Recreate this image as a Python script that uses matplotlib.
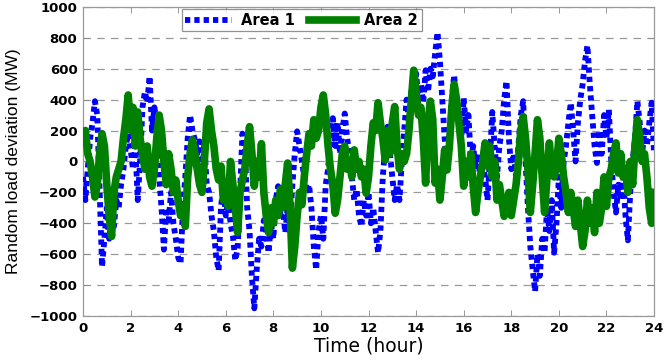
import numpy as np
import matplotlib
matplotlib.use("Agg")
import matplotlib.pyplot as plt

# Random load deviation (MW), sampled every 0.1 h from 0 to 24 h
area1 = [
    -100, -250, -50, 150, 250, 390, 300, -200, -680, -500,
    -300, -500, -350, -420, -250, -300, -150, -50, 100, 180,
    80, -50, 100, -250, 0, 350, 450, 380, 550, 200,
    350, 250, -100, -300, -570, -300, -380, -200, -400, -500,
    -620, -660, -300, -100, 150, 300, 200, 140, 50, 130,
    -100, 100, -150, -200, -350, -450, -620, -705, -300, -150,
    -350, -250, -400, -480, -640, -560, -200, 180, 100, -300,
    -450, -750, -950, -700, -500, -550, -380, -450, -590, -400,
    -500, -250, -160, -350, -300, -460, -300, -400, -150, 50,
    195, 100, 0, -100, -200, -150, -300, -550, -700, -450,
    -350, -500, -150, -50, 150, 280, 100, 250, 50, 200,
    310, 150, 50, -100, -250, -180, -350, -420, -250, -350,
    -200, -400, -300, -450, -590, -450, -100, 100, 225, 50,
    -100, -250, -150, -250, 0, 200, 400, 250, 450, 350,
    570, 400, 500, 380, 590, 450, 600, 550, 700, 835,
    650, 400, 150, -55, 150, 400, 560, 350, 280, 150,
    410, 200, 300, 10, 100, -50, 50, -120, -20, -100,
    -250, 0, 320, 100, -100, 100, 200, 400, 520, 150,
    -50, 50, -100, 100, 300, 390, 0, -300, -550, -700,
    -840, -600, -740, -500, -590, -300, -450, -250, -590, -400,
    -100, -300, 0, 100, 250, 380, 200, 0, 250, 400,
    500, 650, 750, 500, 300, 100, -10, 200, 50, 300,
    150, 335, 0, -200, -330, -150, -250, -100, -350, -510,
    -200, 0, 150, 390, 250, 50, 200, 100, 250, 380,
    50,
]

area2 = [
    150, 200, 50, 0, -100, -230, -150, 50, 180, 100,
    -150, -350, -485, -200, -100, -50, 0, 150, 270, 430,
    200, 350, 100, 320, 150, 50, -50, 100, -100, -160,
    -50, 150, 300, 200, 0, -150, 50, -50, -200, -120,
    -250, -350, -300, -420, -100, 50, 140, 50, -50, -150,
    -200, 0, 250, 340, 200, 100, -50, -120, -30, -250,
    -180, -290, 0, -150, -300, -460, -200, -120, -50, 100,
    225, 50, -160, 0, -100, 115, -200, -350, -460, -300,
    -400, -250, -350, -180, -300, -150, -10, -290, -690, -550,
    -350, -200, -280, -100, 50, 180, 100, 270, 150, 200,
    350, 430, 300, 100, -50, -150, -335, -250, -100, 50,
    100, -50, 0, -100, 75, -50, 0, -100, -50, -205,
    -100, 100, 250, 200, 380, 250, 150, 10, 200, 50,
    250, 355, 100, -50, 50, 0, 50, 200, 400, 590,
    450, 300, 350, 150, -140, 250, 390, 270, -140, -50,
    -250, -100, 75, -55, 100, 350, 500, 400, 250, 100,
    -160, 0, -100, 50, -160, -330, -200, -100, 0, 120,
    -30, 100, -100, 0, -250, -150, -250, -355, -300, -200,
    -350, -250, -150, 0, 200, 290, 150, -50, -330, -150,
    50, 270, 150, -100, -330, -100, 120, -50, -100, -30,
    150, 50, -100, -200, -330, -200, -300, -420, -250, -400,
    -550, -450, -250, -400, -300, -460, -200, -400, -300, -100,
    -290, -100, -50, 50, 120, -75, 50, -100, -50, -200,
    0, -150, 100, 270, 150, 0, 50, -100, -300, -400,
    -200,
]

series_labels = ["Area 1", "Area 2"]
x_ticks = list(range(0, 25, 2))
y_ticks = list(range(-1000, 1001, 200))
x_label = "Time (hour)"
y_label = "Random load deviation (MW)"

time_h = np.linspace(0, 24, len(area1))

fig = plt.figure(figsize=(6.64, 3.6), dpi=100)
ax = fig.add_axes([0.125, 0.122, 0.860, 0.859])

ax.plot(time_h, area1, color=(0, 0, 1), lw=4.2, linestyle=(0, (0.9, 0.7)),
        label=series_labels[0], zorder=3)
ax.plot(time_h, area2, color=(0, 0.5, 0), lw=5.5, solid_joinstyle="round",
        label=series_labels[1], zorder=4)

ax.set_xlim(0, 24)
ax.set_ylim(-1000, 1000)
ax.set_xticks(x_ticks)
ax.set_yticks(y_ticks)
ax.yaxis.grid(True, linestyle=(0, (6, 5)), color="#999999", lw=0.9)
ax.set_axisbelow(True)
ax.tick_params(direction="in", top=True, right=True, length=4, width=0.6,
               color="#888888", pad=4)
for lab in ax.get_xticklabels() + ax.get_yticklabels():
    lab.set_fontweight("bold")
    lab.set_fontsize(9.5)
    lab.set_family("DejaVu Sans")
for sp in ax.spines.values():
    sp.set_color("#999999")
    sp.set_linewidth(0.9)

ax.set_xlabel(x_label, fontsize=13.5, family="DejaVu Sans", labelpad=1)
ax.set_ylabel(y_label, fontsize=12.5, family="Liberation Sans")
ax.yaxis.set_label_coords(-0.108, 0.5)

leg = ax.legend(loc="upper center", bbox_to_anchor=(0.383, 0.993), ncol=2,
                frameon=True, fancybox=False, edgecolor="#777777",
                prop={"weight": "bold", "size": 10.5, "family": "DejaVu Sans"},
                handlelength=3.2, columnspacing=1.0, handletextpad=0.6,
                borderpad=0.25, borderaxespad=0)
leg.get_frame().set_linewidth(0.9)

fig.savefig("out.png", dpi=100)
